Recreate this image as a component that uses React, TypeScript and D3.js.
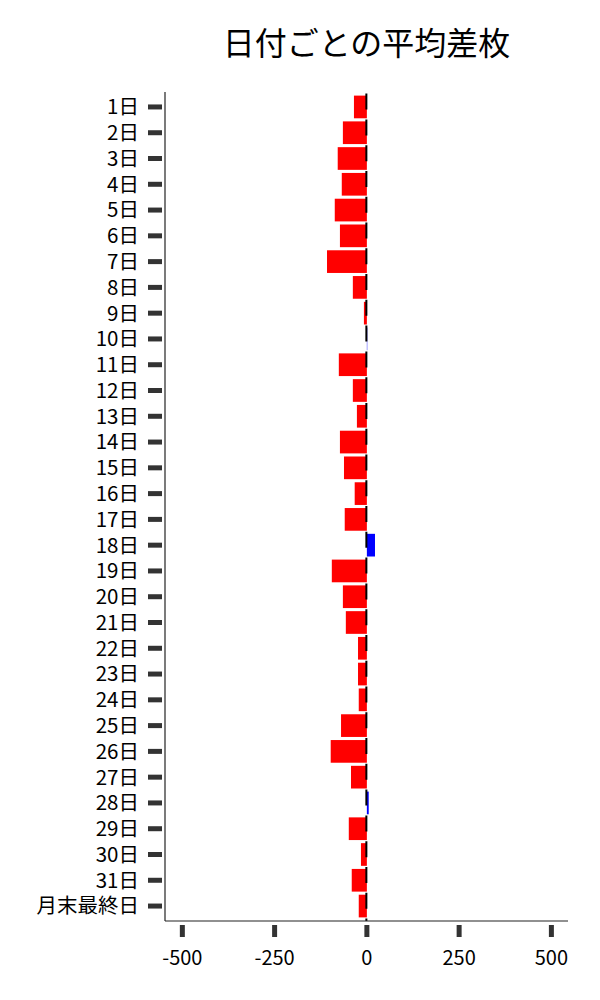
import { scaleBand, scaleLinear } from "d3"

const days = [
  "1日", "2日", "3日", "4日", "5日", "6日", "7日", "8日", "9日", "10日",
  "11日", "12日", "13日", "14日", "15日", "16日", "17日", "18日", "19日", "20日",
  "21日", "22日", "23日", "24日", "25日", "26日", "27日", "28日", "29日", "30日",
  "31日", "月末最終日",
]

// 平均差枚（日付ごと）
const avgDiff = [
  -35, -65, -79, -68, -87, -73, -108, -38, -8, 1,
  -76, -38, -27, -73, -62, -33, -60, 22, -95, -65,
  -57, -24, -24, -22, -70, -98, -43, 5, -49, -16,
  -41, -22,
]

const xTicks = [-500, -250, 0, 250, 500]

const W = 600
const H = 1000
const left = 165
const right = 568
const top = 92
const bottom = 921
const font = "'Noto Sans CJK JP', 'Noto Sans', sans-serif"

export default function App() {
  const x = scaleLinear().domain([-547, 545]).range([left, right])
  const y = scaleBand<string>()
    .domain(days)
    .range([top, bottom])
    .paddingInner(0.12)
    .paddingOuter(0.14)

  const x0 = x(0)
  const dashStart = (y(days[0]) ?? top) - 2

  return (
    <div style={{ position: "absolute", left: 0, top: 0 }}>
      <svg width={W} height={H} style={{ display: "block", background: "#fff" }}>
        {/* タイトル */}
        <text
          x={(left + right) / 2}
          y={55}
          textAnchor="middle"
          fontFamily={font}
          fontSize={32}
          fill="#000"
        >
          日付ごとの平均差枚
        </text>

        {/* 棒 */}
        {days.map((d, i) => {
          const v = avgDiff[i]
          return (
            <rect
              key={d}
              x={Math.min(x(v), x0)}
              y={y(d)}
              width={Math.abs(x(v) - x0)}
              height={y.bandwidth()}
              fill={v < 0 ? "#ff0000" : "#0000ff"}
            />
          )
        })}

        {/* ゼロ線 */}
        <line
          x1={x0 - 0.5}
          x2={x0 - 0.5}
          y1={dashStart}
          y2={bottom}
          stroke="#000"
          strokeWidth={2}
          strokeDasharray={`16 ${y.step() - 16}`}
        />

        {/* Y 軸 */}
        <line x1={left} x2={left} y1={top} y2={bottom} stroke="#222" strokeWidth={1.2} />
        {days.map((d) => {
          const cy = (y(d) ?? 0) + y.bandwidth() / 2
          return (
            <g key={d}>
              <line x1={148} x2={162} y1={cy} y2={cy} stroke="#333" strokeWidth={5} />
              <text
                x={139}
                y={cy}
                dy="0.36em"
                textAnchor="end"
                fontFamily={font}
                fontSize={20.5}
                fill="#000"
              >
                {d}
              </text>
            </g>
          )
        })}

        {/* X 軸 */}
        <line x1={left} x2={right} y1={bottom} y2={bottom} stroke="#222" strokeWidth={1.2} />
        {xTicks.map((t) => (
          <g key={t}>
            <line x1={x(t)} x2={x(t)} y1={925} y2={937} stroke="#333" strokeWidth={5} />
            <text
              x={x(t)}
              y={965}
              textAnchor="middle"
              fontFamily={font}
              fontSize={20}
              fill="#000"
            >
              {t}
            </text>
          </g>
        ))}
      </svg>
    </div>
  )
}
